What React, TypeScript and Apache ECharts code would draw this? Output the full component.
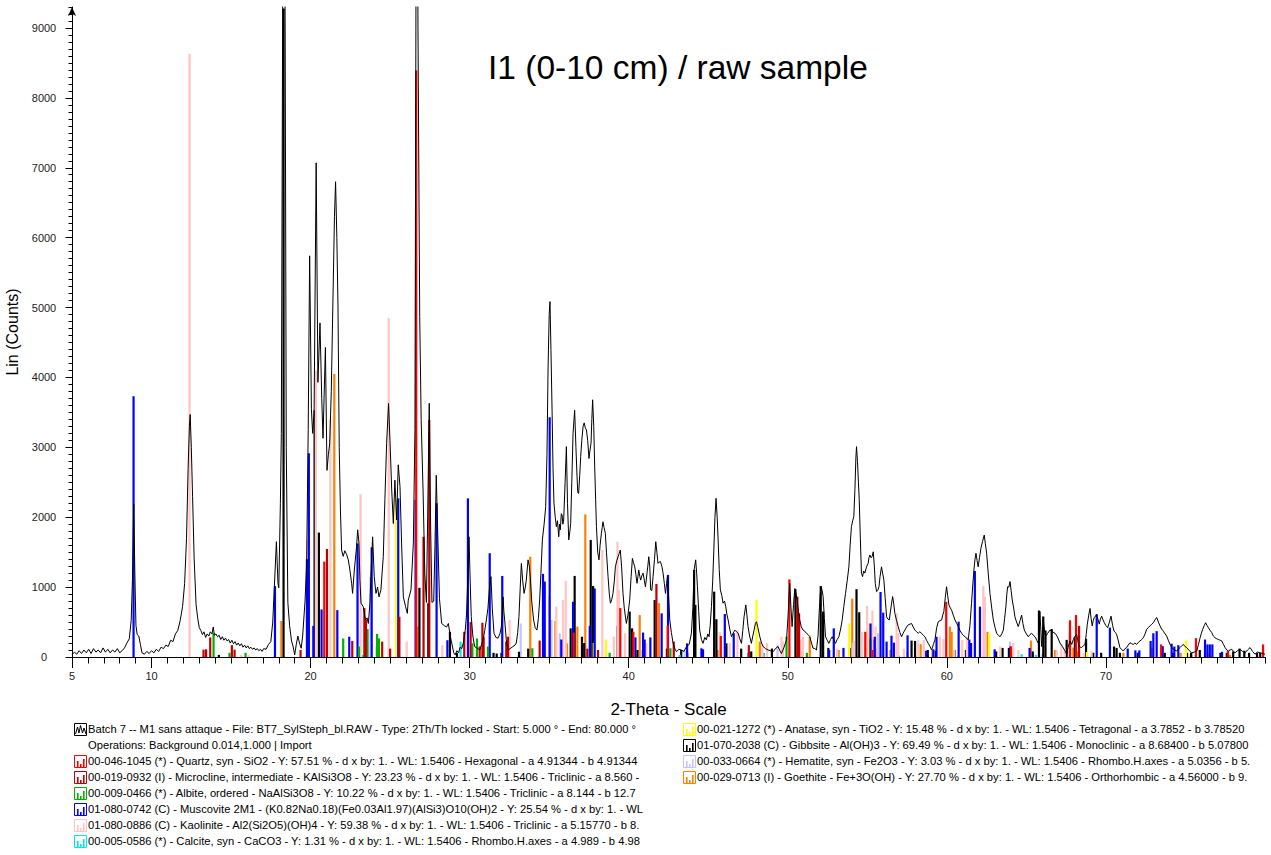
import React, { useEffect, useRef } from "react";
import * as echarts from "echarts";

// ---------- measured scan (2-theta, counts) ----------
const scan: [number, number][] = [
[5.0,30],[5.15,70],[5.3,40],[5.45,90],[5.6,50],[5.75,100],[5.9,60],[6.05,110],[6.2,50],[6.35,120],[6.5,70],[6.65,100],[6.8,60],[6.95,130],[7.1,70],[7.25,110],[7.4,60],[7.55,100],[7.7,70],[7.85,120],[8.0,60],[8.15,90],[8.3,130],[8.45,200],[8.6,260],[8.72,520],[8.8,1100],[8.88,2190],[8.95,1200],[9.02,450],[9.1,320],[9.2,300],[9.3,180],[9.4,60],[9.55,40],[9.7,80],[9.85,50],[10.0,90],[10.15,60],[10.3,110],[10.45,80],[10.6,140],[10.75,120],[10.9,170],[11.05,150],[11.2,240],[11.35,220],[11.5,330],[11.65,380],[11.8,520],[11.95,720],[12.08,1050],[12.2,1700],[12.3,2700],[12.38,3300],[12.43,3470],[12.5,3000],[12.58,2300],[12.68,1400],[12.8,750],[12.9,560],[13.0,420],[13.1,380],[13.2,320],[13.3,360],[13.4,280],[13.5,330],[13.6,300],[13.7,360],[13.8,330],[13.88,430],[13.95,310],[14.05,330],[14.15,290],[14.25,310],[14.35,250],[14.45,290],[14.55,240],[14.65,270],[14.75,230],[14.85,250],[14.95,200],[15.05,240],[15.15,190],[15.25,220],[15.35,170],[15.45,200],[15.55,160],[15.65,190],[15.75,140],[15.85,170],[15.95,130],[16.05,160],[16.15,120],[16.25,140],[16.35,110],[16.45,130],[16.55,100],[16.65,120],[16.75,90],[16.85,110],[16.95,80],[17.05,120],[17.2,110],[17.35,180],[17.5,220],[17.62,500],[17.72,1000],[17.85,1650],[17.95,1050],[18.0,990],[18.1,2200],[18.16,3200],[18.24,9000],[18.3,15000],[18.4,9000],[18.47,3000],[18.57,780],[18.68,450],[18.8,230],[18.9,150],[19.0,30],[19.1,180],[19.2,300],[19.3,200],[19.41,125],[19.5,300],[19.56,500],[19.65,800],[19.75,1340],[19.85,3250],[19.94,5740],[20.05,3550],[20.13,3200],[20.22,3500],[20.35,7070],[20.46,3930],[20.59,4780],[20.7,3700],[20.78,3130],[20.93,4430],[21.03,2670],[21.12,2900],[21.2,3050],[21.3,3800],[21.4,5050],[21.5,6300],[21.57,6800],[21.65,6000],[21.72,5050],[21.8,3000],[21.88,2060],[21.95,1530],[22.05,1440],[22.15,1520],[22.26,1470],[22.37,1390],[22.47,1245],[22.58,1055],[22.64,910],[22.75,1245],[22.89,1580],[22.96,1820],[23.04,1630],[23.1,1100],[23.17,770],[23.31,720],[23.4,600],[23.46,530],[23.55,560],[23.63,480],[23.73,770],[23.79,1150],[23.9,1720],[24.0,1150],[24.11,910],[24.21,1000],[24.3,860],[24.42,960],[24.57,1440],[24.67,2250],[24.78,3060],[24.9,3630],[24.99,3100],[25.1,2390],[25.2,1910],[25.3,2530],[25.41,1960],[25.51,2750],[25.62,2440],[25.72,1630],[25.83,860],[25.97,720],[26.08,625],[26.14,815],[26.31,960],[26.46,1630],[26.56,3250],[26.62,9000],[26.67,15000],[26.75,9000],[26.86,4870],[26.95,3400],[27.07,2390],[27.18,1200],[27.28,780],[27.36,2000],[27.46,3630],[27.55,1800],[27.63,780],[27.74,800],[27.82,1600],[27.9,2600],[28.0,1700],[28.1,840],[28.24,480],[28.4,450],[28.55,430],[28.66,480],[28.78,300],[28.87,200],[29.0,60],[29.08,30],[29.2,90],[29.3,60],[29.4,140],[29.5,120],[29.6,200],[29.72,380],[29.8,600],[29.88,1100],[29.96,1720],[30.03,1100],[30.1,580],[30.2,300],[30.31,150],[30.45,130],[30.63,100],[30.75,180],[30.84,245],[30.95,380],[31.05,530],[31.15,700],[31.25,1000],[31.34,1150],[31.42,700],[31.53,340],[31.65,280],[31.78,270],[31.9,330],[31.99,430],[32.05,600],[32.1,860],[32.15,650],[32.2,530],[32.3,250],[32.41,100],[32.55,120],[32.72,150],[32.85,170],[32.93,200],[33.02,350],[33.1,580],[33.18,1000],[33.25,1340],[33.33,1100],[33.42,910],[33.5,1000],[33.56,1100],[33.67,1390],[33.75,1300],[33.81,1150],[33.9,800],[34.02,530],[34.12,420],[34.23,385],[34.32,550],[34.4,815],[34.48,1200],[34.57,1675],[34.68,1900],[34.78,2150],[34.86,2900],[34.93,4150],[35.0,4900],[35.05,5085],[35.11,4400],[35.18,3530],[35.24,2700],[35.3,2200],[35.38,2000],[35.45,1865],[35.52,1950],[35.6,1720],[35.65,1900],[35.7,1820],[35.76,2050],[35.81,2030],[35.86,1900],[35.91,1960],[36.0,2500],[36.08,3010],[36.15,2200],[36.23,1675],[36.3,1800],[36.35,1910],[36.42,2500],[36.5,3200],[36.6,3530],[36.68,3000],[36.75,2580],[36.8,2350],[36.85,2340],[36.92,2600],[36.98,2870],[37.05,3100],[37.13,3300],[37.2,3350],[37.27,3280],[37.34,3250],[37.42,3100],[37.5,2840],[37.56,2950],[37.63,3060],[37.68,3400],[37.73,3680],[37.8,3300],[37.86,2720],[37.92,2250],[37.97,1865],[38.05,1500],[38.13,1390],[38.2,1600],[38.28,1770],[38.33,1850],[38.38,1935],[38.45,1850],[38.53,1770],[38.6,1500],[38.7,1150],[38.78,900],[38.85,770],[38.93,820],[39.01,910],[39.1,1100],[39.16,1290],[39.25,1380],[39.33,1435],[39.4,1480],[39.47,1530],[39.55,1300],[39.64,910],[39.72,700],[39.85,480],[39.95,600],[40.06,815],[40.15,1150],[40.23,1410],[40.3,1350],[40.38,1290],[40.45,1180],[40.52,1055],[40.58,1150],[40.63,1245],[40.7,1150],[40.75,1100],[40.82,1160],[40.9,1200],[40.98,1100],[41.05,1005],[41.1,1100],[41.15,1200],[41.2,1300],[41.26,1435],[41.32,1300],[41.38,960],[41.45,950],[41.53,1150],[41.62,1400],[41.7,1650],[41.77,1500],[41.84,1340],[41.92,1360],[41.99,1365],[42.08,1300],[42.16,1200],[42.24,1050],[42.31,910],[42.38,1050],[42.43,1150],[42.5,900],[42.58,530],[42.68,350],[42.79,195],[42.9,120],[43.0,75],[43.15,110],[43.31,100],[43.47,80],[43.63,150],[43.8,180],[43.94,340],[44.03,700],[44.11,1245],[44.21,1390],[44.27,1200],[44.32,1005],[44.4,650],[44.46,385],[44.57,250],[44.67,195],[44.78,280],[44.88,245],[44.97,330],[45.05,290],[45.12,450],[45.2,720],[45.28,1100],[45.35,1530],[45.42,2000],[45.49,2270],[45.56,2000],[45.62,1675],[45.69,1250],[45.76,960],[45.85,880],[45.93,770],[46.02,800],[46.1,720],[46.18,600],[46.25,530],[46.35,400],[46.46,290],[46.56,340],[46.67,385],[46.78,360],[46.88,340],[46.98,260],[47.09,195],[47.17,380],[47.25,575],[47.36,745],[47.43,600],[47.5,435],[47.6,300],[47.71,195],[47.8,300],[47.88,385],[47.96,480],[48.03,505],[48.12,420],[48.24,290],[48.35,200],[48.45,150],[48.6,120],[48.76,100],[48.92,90],[49.08,75],[49.22,120],[49.39,150],[49.5,90],[49.6,50],[49.75,130],[49.92,245],[50.02,600],[50.08,900],[50.12,1055],[50.2,700],[50.27,435],[50.36,750],[50.44,980],[50.52,900],[50.59,815],[50.67,650],[50.75,530],[50.85,430],[50.96,385],[51.06,370],[51.17,340],[51.28,320],[51.38,290],[51.49,200],[51.59,125],[51.7,120],[51.8,100],[51.9,300],[51.97,625],[52.04,900],[52.1,1005],[52.16,950],[52.22,865],[52.3,550],[52.37,290],[52.48,240],[52.58,195],[52.69,250],[52.79,290],[52.9,240],[53.0,195],[53.1,250],[53.21,290],[53.32,400],[53.42,530],[53.52,720],[53.63,910],[53.74,1100],[53.84,1290],[53.92,1600],[54.0,1865],[54.08,1950],[54.15,2010],[54.22,2400],[54.28,2850],[54.32,3010],[54.38,2800],[54.44,2500],[54.49,2250],[54.56,1700],[54.63,1200],[54.7,1150],[54.77,1230],[54.84,1200],[54.95,1290],[55.05,1340],[55.1,1420],[55.16,1460],[55.23,1420],[55.3,1435],[55.37,1505],[55.44,1300],[55.5,1050],[55.58,935],[55.65,950],[55.73,1005],[55.8,1150],[55.89,1290],[55.96,1200],[56.04,1100],[56.12,850],[56.21,575],[56.3,540],[56.38,530],[56.48,700],[56.59,865],[56.66,760],[56.73,625],[56.84,520],[56.94,435],[57.05,350],[57.15,290],[57.25,340],[57.36,385],[57.47,430],[57.57,460],[57.68,470],[57.78,480],[57.88,430],[57.99,385],[58.1,360],[58.2,340],[58.3,360],[58.41,340],[58.52,310],[58.62,290],[58.72,240],[58.83,195],[58.94,150],[59.04,100],[59.15,180],[59.25,245],[59.36,420],[59.46,505],[59.56,520],[59.67,530],[59.74,600],[59.81,650],[59.9,850],[59.98,1005],[60.05,880],[60.13,745],[60.22,700],[60.3,670],[60.4,600],[60.51,530],[60.62,480],[60.72,435],[60.82,380],[60.93,340],[61.03,310],[61.14,290],[61.24,270],[61.34,245],[61.45,450],[61.55,770],[61.62,1000],[61.7,1245],[61.77,1400],[61.83,1485],[61.9,1380],[61.97,1290],[62.05,1420],[62.14,1555],[62.24,1650],[62.35,1745],[62.42,1620],[62.5,1485],[62.6,1200],[62.71,910],[62.82,700],[62.92,530],[63.03,420],[63.13,340],[63.24,310],[63.34,290],[63.45,330],[63.55,385],[63.63,550],[63.71,720],[63.77,900],[63.82,1005],[63.9,1000],[63.97,1080],[64.04,950],[64.11,815],[64.2,700],[64.28,575],[64.38,500],[64.49,435],[64.6,520],[64.7,600],[64.78,480],[64.87,385],[65.0,330],[65.12,290],[65.22,320],[65.33,340],[65.44,310],[65.54,290],[65.65,240],[65.75,195],[65.85,650],[65.96,150],[66.06,530],[66.13,400],[66.2,290],[66.34,340],[66.48,385],[66.64,360],[66.8,340],[66.95,290],[67.11,200],[67.27,150],[67.42,90],[67.53,40],[67.62,140],[67.74,230],[67.85,180],[67.95,250],[68.06,300],[68.16,325],[68.23,240],[68.3,155],[68.4,140],[68.47,135],[68.58,160],[68.68,180],[68.76,320],[68.83,470],[68.92,600],[69.0,695],[69.07,550],[69.14,445],[69.2,520],[69.27,565],[69.35,590],[69.42,610],[69.5,540],[69.58,470],[69.65,540],[69.73,585],[69.82,530],[69.9,490],[70.0,450],[70.11,420],[70.22,500],[70.32,585],[70.42,450],[70.51,370],[70.6,350],[70.67,325],[70.78,230],[70.88,135],[70.98,110],[71.09,85],[71.2,120],[71.3,135],[71.4,170],[71.51,205],[71.62,190],[71.72,180],[71.82,200],[71.93,180],[72.04,210],[72.14,230],[72.25,250],[72.35,275],[72.46,330],[72.56,395],[72.66,420],[72.77,445],[72.88,470],[72.98,490],[73.08,530],[73.19,565],[73.3,500],[73.4,445],[73.5,400],[73.61,370],[73.72,330],[73.82,300],[73.92,240],[74.03,180],[74.13,140],[74.24,110],[74.34,100],[74.45,85],[74.55,110],[74.66,135],[74.76,160],[74.87,180],[74.97,150],[75.08,135],[75.24,90],[75.39,60],[75.55,70],[75.71,85],[75.82,180],[75.92,275],[76.0,340],[76.08,395],[76.18,450],[76.27,490],[76.36,450],[76.44,420],[76.55,380],[76.65,350],[76.75,300],[76.86,275],[76.97,260],[77.07,250],[77.18,240],[77.28,230],[77.39,180],[77.49,135],[77.6,100],[77.7,85],[77.8,100],[77.91,110],[78.02,80],[78.12,60],[78.27,90],[78.43,110],[78.59,80],[78.75,60],[78.9,100],[79.06,135],[79.22,80],[79.37,40],[79.53,70],[79.69,60],[79.85,50],[80.0,40]
];

// ---------- reference stick patterns (2-theta, counts) ----------
const quartz: [number, number][] = [[20.86,1365],[26.64,8390],[36.54,350],[39.47,700],[40.29,360],[42.45,450],[45.79,300],[50.1,1110],[54.87,360],[55.33,100],[59.96,790],[64.03,150],[67.74,525],[68.12,600],[73.47,180],[75.66,270],[77.67,85],[79.88,180]];
const microcline: [number, number][] = [[13.27,105],[13.43,110],[13.69,280],[15.05,170],[15.22,105],[19.37,100],[21.03,1545],[22.62,230],[23.38,700],[23.48,530],[24.5,220],[25.0,120],[25.58,575],[27.1,1720],[27.46,3390],[29.66,360],[30.06,500],[30.63,150],[30.8,490],[30.88,290],[32.3,220],[32.41,290],[34.4,235],[37.4,120],[38.07,100],[41.74,1045],[42.83,220],[47.55,170],[50.6,865],[50.71,625],[68.31,445]];
const albite: [number, number][] = [[13.9,340],[14.9,60],[15.91,60],[22.05,265],[23.04,150],[23.58,400],[24.18,330],[24.3,265],[30.17,195],[30.46,265],[31.15,150],[33.94,125],[38.8,60],[42.62,125],[49.92,290],[51.2,60]];
const muscovite: [number, number][] = [[8.87,3730],[17.76,1015],[19.77,1400],[19.89,2915],[20.17,445],[20.69,680],[21.68,670],[22.43,290],[22.95,1625],[23.84,1570],[25.51,2270],[26.6,2250],[27.92,2200],[28.6,240],[29.89,2270],[31.26,1485],[32.05,1160],[34.61,1190],[34.72,1080],[35.03,3430],[35.76,250],[36.5,790],[37.55,445],[37.86,980],[40.42,280],[40.9,350],[41.0,250],[41.36,280],[42.07,625],[42.47,1175],[43.67,195],[44.57,125],[44.67,110],[46.04,615],[46.6,340],[52.6,100],[52.89,410],[53.5,130],[55.2,480],[55.47,290],[55.83,930],[56.0,635],[56.21,220],[56.52,305],[56.67,205],[57.53,310],[58.7,90],[59.15,110],[59.35,290],[60.74,505],[61.41,250],[61.52,200],[61.76,1230],[62.08,720],[63.0,110],[64.0,150],[65.2,130],[69.42,610],[70.25,420],[71.37,120],[71.85,95],[72.1,95],[72.81,230],[72.98,340],[73.19,370],[73.57,155],[74.13,190],[74.3,150],[74.55,170],[76.23,250],[76.38,180],[76.53,180],[76.69,180],[77.3,75]];
const kaolinite: [number, number][] = [[12.39,8630],[15.64,30],[16.1,30],[19.81,1675],[20.33,4100],[21.24,3400],[23.14,2330],[24.91,4850],[26.04,220],[28.28,170],[32.51,530],[34.99,870],[35.45,720],[35.87,815],[36.04,1090],[38.34,1530],[39.06,290],[39.29,1650],[39.39,960],[39.77,340],[41.11,195],[45.72,360],[46.35,200],[46.83,385],[48.4,170],[48.7,200],[49.6,290],[49.7,220],[50.8,250],[50.95,290],[53.1,120],[54.15,230],[54.65,360],[54.99,730],[55.32,665],[55.52,435],[56.84,625],[56.95,340],[57.3,120],[58.2,245],[58.55,245],[59.56,290],[59.78,260],[60.48,100],[60.97,245],[61.26,290],[62.29,1015],[62.39,865],[63.35,150],[64.17,200],[64.5,100],[66.9,100],[67.2,180],[67.4,110],[68.6,60],[69.1,80]];
const calcite: [number, number][] = [[23.3,30],[29.43,220],[39.4,30],[43.2,30],[47.5,60],[48.5,60],[57.0,20],[60.7,20],[64.7,40],[65.6,30]];
const anatase: [number, number][] = [[25.37,2250],[37.8,200],[38.57,250],[48.03,815],[53.86,480],[55.05,480],[62.66,340],[68.8,70],[70.3,150],[75.03,240]];
const gibbsite: [number, number][] = [[14.23,30],[18.3,9280],[20.25,3530],[20.52,1780],[26.84,990],[27.4,770],[28.76,360],[29.2,60],[31.5,60],[31.7,50],[32.0,60],[33.1,75],[33.68,120],[36.35,410],[36.6,1160],[37.06,290],[37.2,200],[37.61,1675],[37.76,1015],[39.29,445],[40.06,650],[40.21,410],[40.55,100],[41.63,815],[42.4,120],[43.3,100],[44.11,1245],[44.19,745],[45.37,935],[45.51,540],[46.14,195],[47.07,120],[47.7,80],[49.0,120],[50.48,970],[52.07,1015],[52.22,650],[52.55,130],[53.9,130],[54.32,970],[54.49,640],[55.33,250],[55.5,130],[57.78,235],[58.0,230],[58.8,100],[59.3,90],[60.5,100],[61.2,100],[62.35,160],[63.1,80],[63.5,130],[63.9,130],[65.4,80],[65.79,665],[66.06,580],[66.2,380],[66.59,400],[67.53,245],[67.74,350],[68.05,280],[68.75,260],[69.2,60],[69.7,60],[70.51,150],[70.67,130],[70.88,60],[72.0,60],[73.7,60],[74.2,60],[75.1,60],[75.35,60],[75.9,100],[77.2,60],[77.6,60],[78.0,80],[78.4,120],[78.7,90],[79.0,60],[79.5,60],[79.7,60]];
const hematite: [number, number][] = [[23.76,1150],[24.14,150],[33.21,480],[35.14,530],[35.66,340],[40.85,100],[43.52,90],[49.35,170],[54.09,200],[55.68,340],[57.5,80],[62.45,150],[63.97,220],[66.0,40],[72.0,60],[75.4,60]];
const goethite: [number, number][] = [[18.16,515],[21.49,4050],[26.71,435],[33.81,1435],[35.39,515],[36.12,195],[36.77,435],[37.27,2040],[40.69,600],[41.9,770],[43.7,60],[45.6,100],[48.24,220],[50.8,80],[51.38,290],[53.2,100],[54.05,835],[55.12,265],[56.45,100],[58.35,185],[59.1,100],[60.19,435],[60.3,360],[62.56,360],[64.1,100],[65.29,235],[66.8,100],[67.95,135],[68.2,80],[71.1,60],[72.9,130],[74.7,60],[76.4,60],[77.8,30]];

// ---------- tick labels ----------
const xLabelValues = [5, 10, 20, 30, 40, 50, 60, 70];
const xMajorTicks = [5, 10, 20, 30, 40, 50, 60, 70];
const yLabelValues = [0, 1000, 2000, 3000, 4000, 5000, 6000, 7000, 8000, 9000];

// ---------- texts ----------
const titleText = "I1 (0-10 cm) / raw sample";
const xName = "2-Theta - Scale";
const yName = "Lin (Counts)";
const scanLegend = [
  "Batch 7 -- M1 sans attaque - File: BT7_SylSteph_bl.RAW - Type: 2Th/Th locked - Start: 5.000 ° - End: 80.000 °",
  "Operations: Background 0.014,1.000 | Import",
];
const phaseLegendLeft = [
  "00-046-1045 (*) - Quartz, syn - SiO2 - Y: 57.51 % - d x by: 1. - WL: 1.5406 - Hexagonal - a 4.91344 - b 4.91344",
  "00-019-0932 (I) - Microcline, intermediate - KAlSi3O8 - Y: 23.23 % - d x by: 1. - WL: 1.5406 - Triclinic - a 8.560 -",
  "00-009-0466 (*) - Albite, ordered - NaAlSi3O8 - Y: 10.22 % - d x by: 1. - WL: 1.5406 - Triclinic - a 8.144 - b 12.7",
  "01-080-0742 (C) - Muscovite 2M1 - (K0.82Na0.18)(Fe0.03Al1.97)(AlSi3)O10(OH)2 - Y: 25.54 % - d x by: 1. - WL",
  "01-080-0886 (C) - Kaolinite - Al2(Si2O5)(OH)4 - Y: 59.38 % - d x by: 1. - WL: 1.5406 - Triclinic - a 5.15770 - b 8.",
  "00-005-0586 (*) - Calcite, syn - CaCO3 - Y: 1.31 % - d x by: 1. - WL: 1.5406 - Rhombo.H.axes - a 4.989 - b 4.98",
];
const phaseLegendRight = [
  "00-021-1272 (*) - Anatase, syn - TiO2 - Y: 15.48 % - d x by: 1. - WL: 1.5406 - Tetragonal - a 3.7852 - b 3.78520",
  "01-070-2038 (C) - Gibbsite - Al(OH)3 - Y: 69.49 % - d x by: 1. - WL: 1.5406 - Monoclinic - a 8.68400 - b 5.07800",
  "00-033-0664 (*) - Hematite, syn - Fe2O3 - Y: 3.03 % - d x by: 1. - WL: 1.5406 - Rhombo.H.axes - a 5.0356 - b 5.",
  "00-029-0713 (I) - Goethite - Fe+3O(OH) - Y: 27.70 % - d x by: 1. - WL: 1.5406 - Orthorhombic - a 4.56000 - b 9.",
];

const FONT = "Arial, 'Liberation Sans', Helvetica, sans-serif";
const C = {
  quartz: "#ff0000",
  microcline: "#c00000",
  albite: "#00b000",
  muscovite: "#0000ff",
  kaolinite: "#ffc4c4",
  calcite: "#00e8e8",
  anatase: "#ffff00",
  gibbsite: "#000000",
  hematite: "#c4c4ff",
  goethite: "#ff8000",
};

const STICK_W = 2.2;

function stickSeries(name: string, data: [number, number][], color: string) {
  return {
    name,
    type: "custom",
    data,
    clip: true,
    z: 2,
    encode: { x: 0, y: 1 },
    renderItem: (_params: any, api: any) => {
      const x = api.value(0);
      const y = api.value(1);
      const base = api.coord([x, 0]);
      const top = api.coord([x, y]);
      return {
        type: "rect",
        shape: { x: base[0] - STICK_W / 2, y: top[1], width: STICK_W, height: base[1] - top[1] },
        style: { fill: color },
      };
    },
  };
}

function phaseIcon(x: number, yc: number, color: string) {
  const top = yc - 6;
  return [
    { type: "rect", shape: { x: x + 0.5, y: top + 0.5, width: 12, height: 12 }, style: { fill: "#fff", stroke: color, lineWidth: 1 } },
    { type: "rect", shape: { x: x + 3, y: top + 6, width: 1.6, height: 6 }, style: { fill: color } },
    { type: "rect", shape: { x: x + 6, y: top + 9, width: 1.6, height: 3 }, style: { fill: color } },
    { type: "rect", shape: { x: x + 9, y: top + 4, width: 1.6, height: 8 }, style: { fill: color } },
  ];
}

function scanIcon(x: number, yc: number) {
  const top = yc - 6;
  return [
    { type: "rect", shape: { x: x + 0.5, y: top + 0.5, width: 12, height: 12 }, style: { fill: "#fff", stroke: "#000", lineWidth: 1 } },
    {
      type: "polyline",
      shape: { points: [[x + 1.5, top + 11], [x + 3.5, top + 4], [x + 5, top + 10], [x + 6.5, top + 2.5], [x + 8.5, top + 10], [x + 10, top + 5], [x + 12, top + 11]] },
      style: { stroke: "#000", lineWidth: 1, fill: "none" },
    },
  ];
}

export default function App() {
  const ref = useRef<HTMLDivElement>(null);

  useEffect(() => {
    if (!ref.current) return;
    const chart = echarts.init(ref.current, undefined, { renderer: "svg" });

    const rowY0 = 729;
    const rowH = 16;
    const leftIconX = 74;
    const leftTextX = 88;
    const rightIconX = 683;
    const rightTextX = 697;
    const legendFont = 11.2;

    const leftColors = [C.quartz, C.microcline, C.albite, C.muscovite, C.kaolinite, C.calcite];
    const rightColors = [C.anatase, C.gibbsite, C.hematite, C.goethite];

    const graphics: any[] = [];
    graphics.push(...scanIcon(leftIconX, rowY0));
    scanLegend.forEach((t, i) => {
      graphics.push({ type: "text", x: leftTextX, y: rowY0 + i * rowH, style: { text: t, fill: "#000", font: `${legendFont}px ${FONT}`, verticalAlign: "middle" } });
    });
    phaseLegendLeft.forEach((t, i) => {
      const yc = rowY0 + (i + 2) * rowH;
      graphics.push(...phaseIcon(leftIconX, yc, leftColors[i]));
      graphics.push({ type: "text", x: leftTextX, y: yc, style: { text: t, fill: "#000", font: `${legendFont}px ${FONT}`, verticalAlign: "middle" } });
    });
    phaseLegendRight.forEach((t, i) => {
      const yc = rowY0 + i * rowH;
      graphics.push(...phaseIcon(rightIconX, yc, rightColors[i]));
      graphics.push({ type: "text", x: rightTextX, y: yc, style: { text: t, fill: "#000", font: `${legendFont}px ${FONT}`, verticalAlign: "middle" } });
    });

    const option: any = {
      animation: false,
      backgroundColor: "#ffffff",
      textStyle: { fontFamily: FONT },
      title: {
        text: titleText,
        left: 483,
        top: 45,
        textStyle: { fontSize: 33.5, fontWeight: "normal", color: "#000", fontFamily: FONT },
      },
      grid: { left: 72, right: 6, top: 7, bottom: 198, containLabel: false, outerBoundsMode: "none" },
      xAxis: [
        {
          type: "value",
          min: 5,
          max: 80,
          interval: 1,
          name: xName,
          nameLocation: "middle",
          nameGap: 44,
          nameTextStyle: { fontSize: 17, color: "#000", fontFamily: FONT },
          axisLine: { show: true, onZero: false, lineStyle: { color: "#000", width: 1 } },
          axisTick: { show: true, length: 6.5, lineStyle: { color: "#000", width: 1 } },
          axisLabel: { customValues: xLabelValues, margin: 13, fontSize: 11, color: "#222", fontFamily: FONT, formatter: (v: number) => String(v) },
          splitLine: { show: false },
        },
        {
          type: "value",
          min: 5,
          max: 80,
          position: "bottom",
          axisLine: { show: false },
          axisTick: { show: true, customValues: xMajorTicks, length: 11, lineStyle: { color: "#000", width: 1 } },
          axisLabel: { show: false },
          splitLine: { show: false },
        },
      ],
      yAxis: [
        {
          type: "value",
          min: 0,
          max: 9300,
          interval: 100,
          name: yName,
          nameLocation: "middle",
          nameGap: 46,
          nameRotate: 90,
          nameTextStyle: { fontSize: 16, color: "#000", fontFamily: FONT },
          axisLine: { show: true, onZero: false, symbol: ["none", "arrow"], symbolSize: [6, 9], lineStyle: { color: "#000", width: 1 } },
          axisTick: { show: true, length: 3.5, lineStyle: { color: "#000", width: 1 } },
          axisLabel: { customValues: yLabelValues, margin: 28, align: "center", fontSize: 11, color: "#222", fontFamily: FONT, formatter: (v: number) => String(v) },
          splitLine: { show: false },
        },
        {
          type: "value",
          min: 0,
          max: 9300,
          position: "left",
          axisLine: { show: false },
          axisTick: { show: true, customValues: yLabelValues, length: 6.5, lineStyle: { color: "#000", width: 1 } },
          axisLabel: { show: false },
          splitLine: { show: false },
        },
      ],
      series: [
        stickSeries("Goethite", goethite, C.goethite),
        stickSeries("Hematite", hematite, C.hematite),
        stickSeries("Gibbsite", gibbsite, C.gibbsite),
        stickSeries("Anatase", anatase, C.anatase),
        stickSeries("Calcite", calcite, C.calcite),
        stickSeries("Kaolinite", kaolinite, C.kaolinite),
        stickSeries("Muscovite", muscovite, C.muscovite),
        stickSeries("Albite", albite, C.albite),
        stickSeries("Microcline", microcline, C.microcline),
        stickSeries("Quartz", quartz, C.quartz),
        {
          name: "Scan",
          type: "line",
          data: scan,
          symbol: "none",
          showSymbol: false,
          clip: true,
          z: 5,
          lineStyle: { color: "#000", width: 1 },
        },
      ],
      graphic: graphics,
    };

    chart.setOption(option);
    return () => chart.dispose();
  }, []);

  return (
    <div
      ref={ref}
      style={{ position: "fixed", left: 0, top: 0, width: 1271, height: 855, background: "#fff" }}
    />
  );
}
